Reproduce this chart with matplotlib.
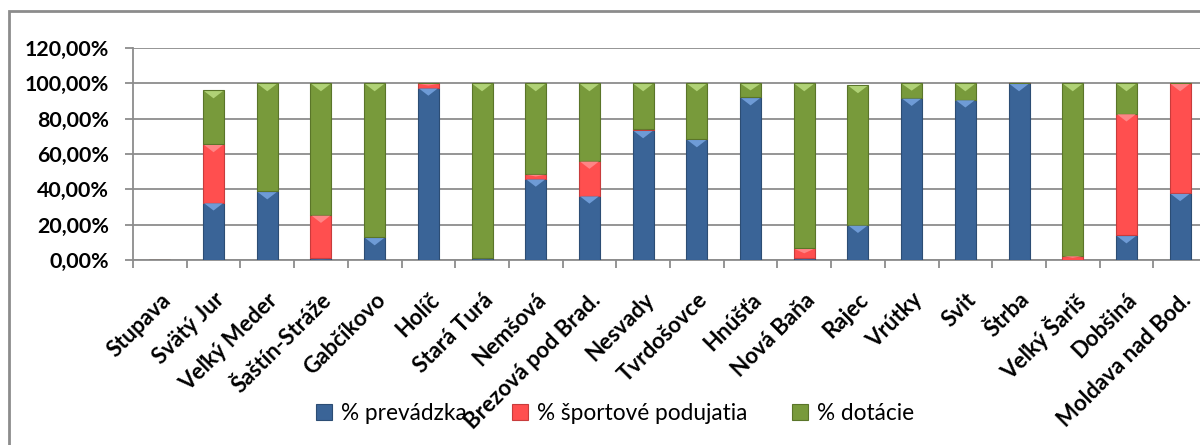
import matplotlib.pyplot as plt
import matplotlib.patches as mpatches
import numpy as np

# Údaje (podiel v %)
mesta = ['Stupava', 'Svätý Jur', 'Veľký Meder', 'Šaštín-Stráže', 'Gabčíkovo', 'Holíč',
         'Stará Turá', 'Nemšová', 'Brezová pod Brad.', 'Nesvady', 'Tvrdošovce', 'Hnúšťa',
         'Nová Baňa', 'Rajec', 'Vrútky', 'Svit', 'Štrba', 'Veľký Šariš', 'Dobšiná',
         'Moldava nad Bod.']
prevadzka = [0, 32.5, 38.8, 1.0, 12.8, 97.5, 1.0, 46.0, 36.4, 73.4, 68.3, 92.0,
             1.0, 19.8, 91.7, 90.8, 100.0, 0.0, 13.9, 37.8]
sportove = [0, 33.0, 0.0, 24.5, 0.0, 2.5, 0.0, 2.6, 19.7, 0.9, 0.0, 0.0,
            5.6, 0.0, 0.0, 0.0, 0.0, 2.5, 69.0, 62.2]
dotacie = [0, 30.5, 61.2, 74.5, 87.2, 0.0, 99.0, 51.4, 43.9, 25.7, 31.7, 8.0,
           93.4, 79.1, 8.3, 9.2, 0.0, 97.5, 17.1, 0.0]
serie = ['% prevádzka', '% športové podujatia', '% dotácie']
farby = ['#3A6497', '#FF4F4F', '#789A3B']
svetle = ['#6E9BD6', '#FF8585', '#B0D276']
okraje = ['#2C4D74', '#C83C3C', '#5A7529']

fig = plt.figure(figsize=(12, 4.45), dpi=100)
ax = fig.add_axes([133 / 1200, 185 / 445, 1074 / 1200, 212 / 445])

# Rámček grafu
fig.add_artist(mpatches.Rectangle((9 / 1200, -0.1), 1.2, 1.1 - 11 / 445, transform=fig.transFigure,
                                  fill=False, edgecolor='#8C8C8C', linewidth=2, clip_on=False))

x = np.arange(len(mesta))
sirka = 0.39
spodok = np.zeros(len(mesta))
for hodnoty, farba, svetla, okraj, nazov in zip([prevadzka, sportove, dotacie], farby, svetle, okraje, serie):
    v = np.array(hodnoty) / 100
    bars = ax.bar(x, v, width=sirka, bottom=spodok, color=farba, edgecolor=okraj, linewidth=0.8,
                  label=nazov, zorder=3)
    # jednoduchý efekt skosenia (svetlý trojuholník hore)
    for b in bars:
        h = b.get_height()
        if h <= 0:
            continue
        d = min(0.045, h * 0.5)
        top = b.get_y() + h
        x0 = b.get_x()
        ax.fill([x0 + 0.02, x0 + b.get_width() - 0.02, x0 + b.get_width() / 2],
                [top - 0.004, top - 0.004, top - d], color=svetla, lw=0, zorder=4)
    spodok += v

ax.set_xlim(-0.5, len(mesta) - 0.5)
ax.set_ylim(0, 1.2)
ax.set_yticks(np.arange(0, 1.21, 0.2))
ax.set_yticklabels([f'{t * 100:.2f}%'.replace('.', ',') for t in np.arange(0, 1.21, 0.2)],
                   fontsize=15.4, fontweight='bold', fontfamily='Lato')
ax.yaxis.grid(True, color='#8C8C8C', linewidth=1.3, zorder=0)
ax.set_axisbelow(True)

ax.set_xticks(np.arange(-0.5, len(mesta), 1))
ax.set_xticklabels([])
ax.set_xticks(x, minor=True)
ax.set_xticklabels(mesta, minor=True, rotation=45, ha='right', va='top', rotation_mode='anchor',
                   fontsize=16, fontweight='bold', fontfamily='Lato')
ax.tick_params(axis='x', which='minor', length=0, pad=21)
ax.tick_params(axis='x', which='major', length=6, color='#8C8C8C', width=1.3)
ax.tick_params(axis='y', length=6, color='#8C8C8C', width=1.3, pad=11)

for s in ['top', 'right']:
    ax.spines[s].set_visible(False)
for s in ['left', 'bottom']:
    ax.spines[s].set_color('#8C8C8C')
    ax.spines[s].set_linewidth(1.3)

leg = fig.legend(loc='center', bbox_to_anchor=(615 / 1200, 1 - 413 / 445), ncol=3, frameon=False,
                 prop={'family': 'Lato', 'size': 16.3}, handlelength=0.7, handleheight=0.7,
                 handletextpad=0.4, columnspacing=2.0)

fig.savefig('out.png', dpi=100)
